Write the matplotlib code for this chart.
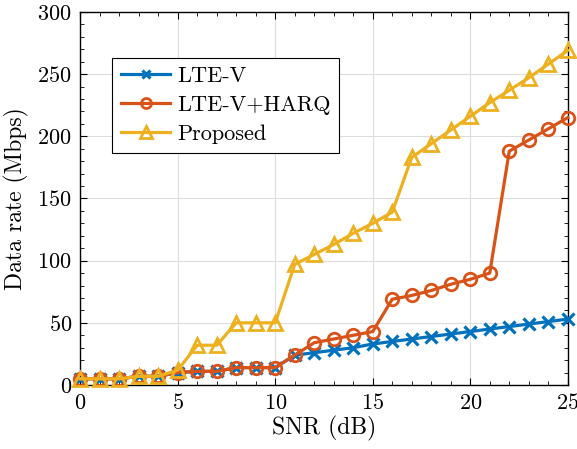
import numpy as np
import matplotlib.pyplot as plt
from matplotlib.ticker import MultipleLocator

plt.rcParams['font.family'] = 'serif'
plt.rcParams['font.serif'] = ['cmr10']
plt.rcParams['mathtext.fontset'] = 'cm'
plt.rcParams['axes.formatter.use_mathtext'] = True

snr = np.arange(0, 26)
lte_v = [5, 5, 5, 7, 7, 10, 11, 11, 14, 14, 14,
         24, 26, 28, 30, 33, 35, 37, 39, 41, 43, 45, 47, 49, 51, 53]
lte_v_harq = [5, 5, 5, 7, 7, 10, 11, 11, 14, 14, 14,
              24, 34, 37, 40, 43, 69, 72, 76, 81, 85, 90, 188, 197, 206, 215]
proposed = [5, 5, 5, 7, 7, 12, 32, 32, 50, 50, 50,
            97, 105, 113, 122, 130, 139, 183, 194, 205, 216, 227, 237, 247, 258, 269]

fig = plt.figure(figsize=(5.77, 4.49), dpi=100)
ax = fig.add_axes([0.139, 0.1425, 0.845, 0.831])

ax.plot(snr, lte_v, color='#0072BD', lw=2.3, marker='x', ms=8, mew=2.3,
        label='LTE-V', clip_on=False, zorder=3)
ax.plot(snr, lte_v_harq, color='#D95319', lw=2.3, marker='o', ms=9, mew=2,
        mfc='none', label='LTE-V+HARQ', clip_on=False, zorder=4)
ax.plot(snr, proposed, color='#EDB120', lw=2.3, marker='^', ms=10, mew=2,
        mfc='none', label='Proposed', clip_on=False, zorder=5)

ax.set_xlim(0, 25)
ax.set_ylim(0, 300)
ax.xaxis.set_major_locator(MultipleLocator(5))
ax.xaxis.set_minor_locator(MultipleLocator(1))
ax.yaxis.set_major_locator(MultipleLocator(50))
ax.yaxis.set_minor_locator(MultipleLocator(10))
ax.tick_params(which='both', direction='in', top=True, right=True, labelsize=16)
ax.tick_params(which='major', length=5, pad=6)
ax.tick_params(which='minor', length=3)
ax.grid(True, which='major', color='#dddddd', lw=0.8)
for s in ax.spines.values():
    s.set_linewidth(1.0)

ax.set_xlabel('SNR (dB)', fontsize=17, labelpad=2)
ax.set_ylabel('Data rate (Mbps)', fontsize=17, labelpad=6)

leg = ax.legend(loc='upper left', bbox_to_anchor=(0.066, 0.877), borderaxespad=0,
                fontsize=16, fancybox=False, framealpha=1, edgecolor='black',
                handlelength=2.2, handletextpad=0.3, borderpad=0.4,
                labelspacing=0.42, markerscale=0.8)
leg.get_frame().set_linewidth(0.8)

fig.savefig('out.png', dpi=100)
